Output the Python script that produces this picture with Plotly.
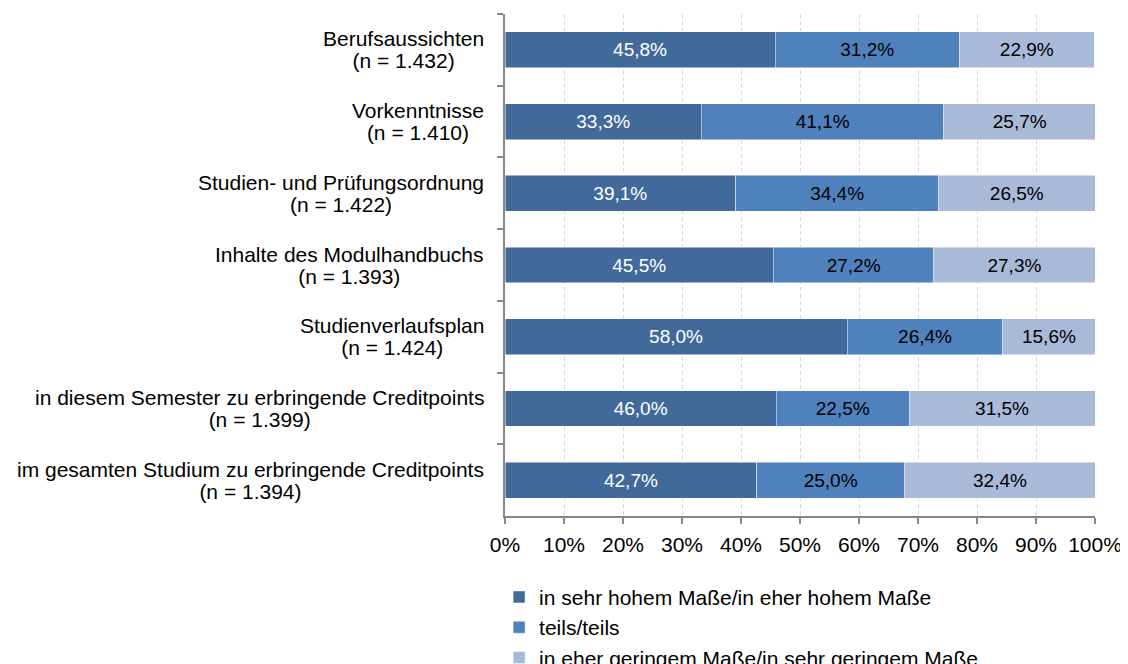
import plotly.graph_objects as go

categories = [
    "Berufsaussichten",
    "Vorkenntnisse",
    "Studien- und Prüfungsordnung",
    "Inhalte des Modulhandbuchs",
    "Studienverlaufsplan",
    "in diesem Semester zu erbringende Creditpoints",
    "im gesamten Studium zu erbringende Creditpoints",
]
n_values = ["1.432", "1.410", "1.422", "1.393", "1.424", "1.399", "1.394"]

series_names = [
    "in sehr hohem Maße/in eher hohem Maße",
    "teils/teils",
    "in eher geringem Maße/in sehr geringem Maße",
]
high = [45.8, 33.3, 39.1, 45.5, 58.0, 46.0, 42.7]
mid = [31.2, 41.1, 34.4, 27.2, 26.4, 22.5, 25.0]
low = [22.9, 25.7, 26.5, 27.3, 15.6, 31.5, 32.4]

x_ticks = [0, 10, 20, 30, 40, 50, 60, 70, 80, 90, 100]
x_ticktext = ["0%", "10%", "20%", "30%", "40%", "50%", "60%", "70%", "80%", "90%", "100%"]

colors = ["#416A9B", "#4F81BD", "#A9B9D8"]
text_colors = ["#FFFFFF", "#000000", "#000000"]

FONT = "Liberation Sans, Arial, sans-serif"
FS = 21
BAR_FS = 19

fig = go.Figure()
for name, vals, col, tcol in zip(series_names, [high, mid, low], colors, text_colors):
    fig.add_trace(go.Bar(
        y=categories, x=vals, orientation="h", name=name,
        marker=dict(color=col, line=dict(color="rgba(255,255,255,0.6)", width=0.8)),
        width=0.5,
        text=vals, texttemplate="%{x:.1f}%", textposition="inside",
        insidetextanchor="middle", constraintext="none",
        textfont=dict(color=tcol, size=BAR_FS, family=FONT),
        legendgroup=name,
    ))

annotations = []
for cat, n in zip(categories, n_values):
    annotations.append(dict(
        x=0, xref="paper", y=cat, yref="y", xanchor="right", yanchor="middle",
        xshift=-19, align="center", showarrow=False,
        text=(f"<span style='font-size:{FS}px'>{cat}</span><br>"
              f"<span style='font-size:{FS}px'>(n = {n})</span>"),
        font=dict(size=17, family=FONT, color="#000000"),
    ))

fig.update_layout(
    width=1128, height=664,
    barmode="stack",
    separators=",.",
    plot_bgcolor="white", paper_bgcolor="white",
    font=dict(family=FONT, size=FS, color="#000000"),
    margin=dict(l=497, r=41, t=6, b=156, autoexpand=False),
    annotations=annotations,
    showlegend=True,
    legend=dict(
        orientation="v", traceorder="normal",
        x=-0.01, xanchor="left", y=-0.121, yanchor="top",
        font=dict(size=FS, family=FONT, color="#000000"),
        tracegroupgap=3, bgcolor="rgba(0,0,0,0)",
    ),
    xaxis=dict(
        range=[0, 100], tickmode="array", tickvals=x_ticks, ticktext=x_ticktext,
        showgrid=True, gridcolor="#D9D9D9", griddash="4px,3px", gridwidth=1,
        showline=True, linecolor="#868686", linewidth=1.5,
        ticks="outside", ticklen=6, tickcolor="#868686", tickwidth=1.5,
        ticklabelstandoff=3,
        zeroline=False, fixedrange=True,
        tickfont=dict(size=FS, family=FONT),
    ),
    yaxis=dict(
        autorange="reversed", type="category",
        showticklabels=False, showgrid=False,
        showline=True, linecolor="#868686", linewidth=1.5,
        ticks="outside", ticklen=6, tickcolor="#868686", tickwidth=1.5,
        tickson="boundaries", zeroline=False,
    ),
)

fig.write_html("out.html")
